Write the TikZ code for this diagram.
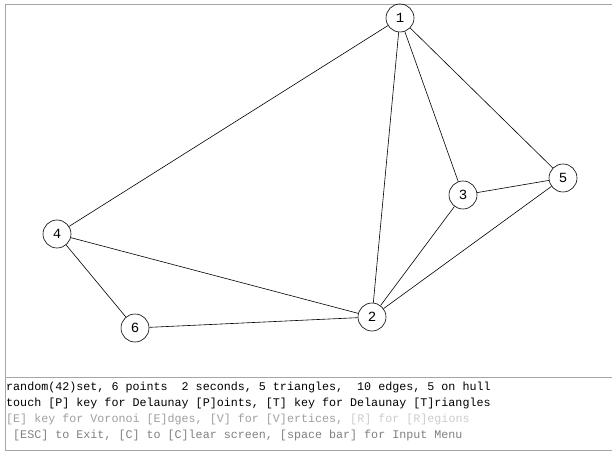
\documentclass[tikz,border=0pt]{standalone}
\usepackage{fontspec}
\setmonofont{Liberation Mono}
\usepackage{tikz}

\tikzset{
	vert/.style={draw, circle, line width=0.6pt, minimum size=28pt, inner sep=0pt, font=\fontsize{14}{14}\selectfont\ttfamily},
	msg/.style={anchor=base west, inner sep=0pt, font=\fontsize{11.7}{14}\selectfont\ttfamily}
}

\begin{document}
\begin{tikzpicture}[x=1pt, y=-1pt]
	\useasboundingbox (0,0) rectangle (612,454);
	
	% frame of the screen
	\draw[gray!70, line width=0.6pt] (612,4) -- (5,4) -- (5,450) -- (612,450);
	\draw[gray!70, line width=0.6pt] (5,377) -- (612,377);
	
	% the six points
	\node[vert] (n1) at (400,18) {1};
	\node[vert] (n2) at (372,317) {2};
	\node[vert] (n3) at (463,195) {3};
	\node[vert] (n4) at (57,234) {4};
	\node[vert] (n5) at (563,178) {5};
	\node[vert] (n6) at (135,328) {6};
	
	% delaunay edges
	\draw[line width=0.6pt] (n1) -- (n4);
	\draw[line width=0.6pt] (n1) -- (n2);
	\draw[line width=0.6pt] (n1) -- (n3);
	\draw[line width=0.6pt] (n1) -- (n5);
	\draw[line width=0.6pt] (n3) -- (n5);
	\draw[line width=0.6pt] (n3) -- (n2);
	\draw[line width=0.6pt] (n5) -- (n2);
	\draw[line width=0.6pt] (n4) -- (n2);
	\draw[line width=0.6pt] (n4) -- (n6);
	\draw[line width=0.6pt] (n6) -- (n2);
	
	% status lines
	\node[msg] (t1) at (6,390) {random(42)set, 6 points\ \ 2 seconds, 5 triangles,\ \ 10 edges, 5 on hull};
	\node[msg] (t2) at (6,406) {touch [P] key for Delaunay [P]oints, [T] key for Delaunay [T]riangles};
	\node[msg, text=gray!75] (t3) at (6,422) {[E] key for Voronoi [E]dges, [V] for [V]ertices, \textcolor{gray!40}{[R] for [R]egions}};
	\node[msg, text=gray] (t4) at (6,438) {\ [ESC] to Exit, [C] to [C]lear screen, [space bar] for Input Menu};
	
\end{tikzpicture}
\end{document}
